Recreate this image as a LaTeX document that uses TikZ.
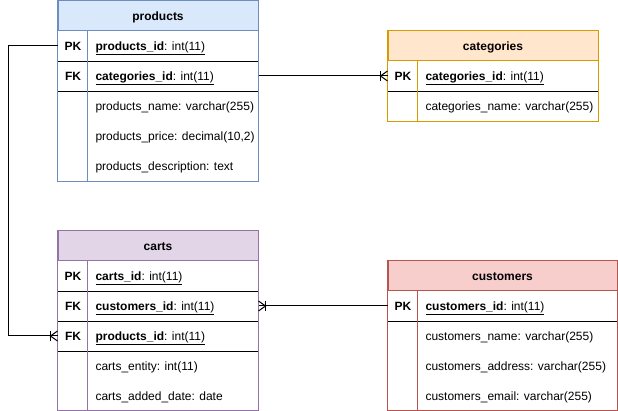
\documentclass[tikz,border=0pt]{standalone}
\usepackage{fontspec}
\setmainfont{Liberation Sans}
\usetikzlibrary{calc}
\definecolor{pfill}{HTML}{DAE8FC}\definecolor{pdraw}{HTML}{6C8EBF}
\definecolor{gfill}{HTML}{FFE6CC}\definecolor{gdraw}{HTML}{D79B00}
\definecolor{cfill}{HTML}{E1D5E7}\definecolor{cdraw}{HTML}{9673A6}
\definecolor{ufill}{HTML}{F8CECC}\definecolor{udraw}{HTML}{B85450}
\newcommand{\ERrow}[6]{% name, x, y, width, key, text
  \node[rowbox, minimum width=#4pt, anchor=north west] (#1) at (#2,#3) {};
  \node[txt, font=\fontsize{12}{14}\selectfont\bfseries] (#1-k) at ($(#1.west)+(15.5,0)$) {#5};
  \node[txt, anchor=west] (#1-t) at ($(#1.west)+(37.5,0)$) {#6};
}
\newcommand{\ERmany}[2]{% anchor, direction (+1 line leaves to the right)
  \draw[erline] ($(#1)+(#2*7,-5)$) -- ($(#1)+(#2*7,5)$);
  \draw[erline] ($(#1)+(0,-5)$) -- ($(#1)+(#2*7,0)$) -- ($(#1)+(0,5)$);
}
\newcommand{\keyfield}[1]{\underline{\textbf{#1}: int(11)}}
\begin{document}
\begin{tikzpicture}[x=1pt,y=-1pt,line width=1pt,
  txt/.style={inner sep=0pt,text height=8.6pt,text depth=0pt,font=\fontsize{12}{14}\selectfont},
  rowbox/.style={inner sep=0pt,minimum height=30pt,draw=none},
  hdr/.style={txt,anchor=north west,minimum height=30pt,text height=8.6pt,font=\fontsize{12}{14}\selectfont\bfseries},
  erline/.style={line width=1pt,draw=black}]
\useasboundingbox (0,0) rectangle (618,411);
% ---------- products
\node[hdr,draw=pdraw,fill=pfill,minimum width=200pt] (products) at (57.5,0.5) {products};
\ERrow{p1}{57.5}{30.5}{200}{PK}{\keyfield{products\_id}}
\ERrow{p2}{57.5}{60.5}{200}{FK}{\keyfield{categories\_id}}
\ERrow{p3}{57.5}{90.5}{200}{}{products\_name: varchar(255)}
\ERrow{p4}{57.5}{120.5}{200}{}{products\_price: decimal(10,2)}
\ERrow{p5}{57.5}{150.5}{200}{}{products\_description: text}
\draw[erline] (p1.south west) -- (p1.south east);
\draw[erline] (p2.south west) -- (p2.south east);
\draw[pdraw] ($(p1.north west)+(30,0)$) -- ($(p5.south west)+(30,0)$);
\draw[pdraw] (products.north west) rectangle (p5.south east);
% ---------- categories
\node[hdr,draw=gdraw,fill=gfill,minimum width=210pt] (categories) at (387.5,30.5) {categories};
\ERrow{g1}{387.5}{60.5}{210}{PK}{\keyfield{categories\_id}}
\ERrow{g2}{387.5}{90.5}{210}{}{categories\_name: varchar(255)}
\draw[erline] (g1.south west) -- (g1.south east);
\draw[gdraw] ($(g1.north west)+(30,0)$) -- ($(g2.south west)+(30,0)$);
\draw[gdraw] (categories.north west) rectangle (g2.south east);
% ---------- carts
\node[hdr,draw=cdraw,fill=cfill,minimum width=200pt] (carts) at (57.5,230.5) {carts};
\ERrow{c1}{57.5}{260.5}{200}{PK}{\keyfield{carts\_id}}
\ERrow{c2}{57.5}{290.5}{200}{FK}{\keyfield{customers\_id}}
\ERrow{c3}{57.5}{320.5}{200}{FK}{\keyfield{products\_id}}
\ERrow{c4}{57.5}{350.5}{200}{}{carts\_entity: int(11)}
\ERrow{c5}{57.5}{380.5}{200}{}{carts\_added\_date: date}
\draw[erline] (c1.south west) -- (c1.south east);
\draw[erline] (c2.south west) -- (c2.south east);
\draw[erline] (c3.south west) -- (c3.south east);
\draw[cdraw] ($(c1.north west)+(30,0)$) -- ($(c5.south west)+(30,-1)$);
\draw[cdraw] (carts.north west) rectangle ($(c5.south east)+(0,-1)$);
% ---------- customers
\node[hdr,draw=udraw,fill=ufill,minimum width=229pt] (customers) at (387.5,260.5) {customers};
\ERrow{u1}{387.5}{290.5}{229}{PK}{\keyfield{customers\_id}}
\ERrow{u2}{387.5}{320.5}{229}{}{customers\_name: varchar(255)}
\ERrow{u3}{387.5}{350.5}{229}{}{customers\_address: varchar(255)}
\ERrow{u4}{387.5}{380.5}{229}{}{customers\_email: varchar(255)}
\draw[erline] (u1.south west) -- (u1.south east);
\draw[udraw] ($(u1.north west)+(30,0)$) -- ($(u4.south west)+(30,-1)$);
\draw[udraw] (customers.north west) rectangle ($(u4.south east)+(0,-1)$);
% ---------- connectors
\draw[erline] (p1.west) -- ++(-49.5,0) |- (c3.west);
\ERmany{c3.west}{-1}
\draw[erline] (p2.east) -- (g1.west);
\ERmany{g1.west}{-1}
\draw[erline] (u1.west) -- (c2.east);
\ERmany{c2.east}{1}
\end{tikzpicture}
\end{document}
